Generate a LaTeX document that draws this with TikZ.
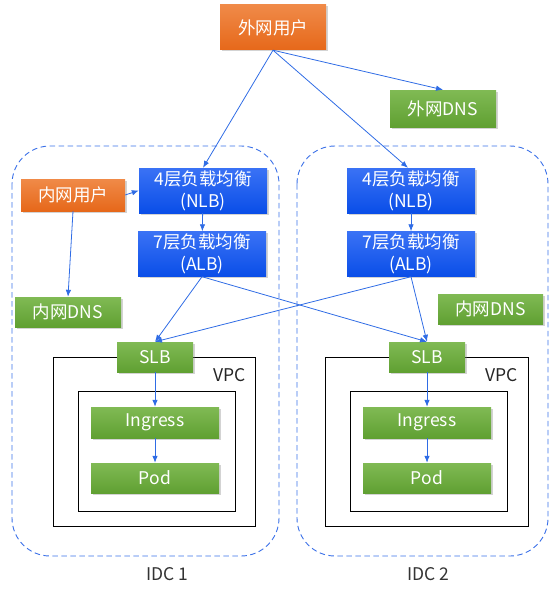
\documentclass[tikz,border=0pt]{standalone}
\usepackage{fontspec}
\setmainfont{Noto Sans CJK SC}
\usetikzlibrary{arrows.meta,shadows}
\definecolor{linkblue}{HTML}{2F6CE5}
\definecolor{idcblue}{HTML}{3A70E8}
\begin{document}
\begin{tikzpicture}[x=1pt,y=-1pt,
    font=\fontsize{17.5}{20}\selectfont,
    box/.style={text=white,inner sep=0pt,drop shadow={opacity=0.35,shadow xshift=1.5pt,shadow yshift=-1.5pt}},
    userbox/.style={box,top color={rgb,255:red,240;green,138;blue,72},bottom color={rgb,255:red,230;green,104;blue,26}},
    lbbox/.style={box,top color={rgb,255:red,58;green,114;blue,245},bottom color={rgb,255:red,10;green,78;blue,232},minimum width=128pt,minimum height=45pt,align=center,font=\fontsize{17.5}{22}\selectfont},
    grnbox/.style={box,top color={rgb,255:red,128;green,186;blue,84},bottom color={rgb,255:red,96;green,160;blue,50}},
    arr/.style={linkblue,line width=0.8pt,-{Latex[length=7pt,width=5.5pt]}},
    idc/.style={idcblue,line width=0.9pt,dash pattern=on 5.5pt off 3.5pt,rounded corners=38pt},
    vpc/.style={black,line width=0.85pt}]
\useasboundingbox (0,0) rectangle (557,594);

% IDC areas
\draw[idc] (12,146) rectangle (279,556);
\draw[idc] (297,146) rectangle (548,556);
\node[text=black!80] (idc1) at (167,574) {IDC 1};
\node[text=black!80] (idc2) at (428,574) {IDC 2};

% VPC frames
\draw[vpc] (53,357) rectangle (255,526);
\draw[vpc] (78,391) rectangle (235,511);
\draw[vpc] (325,357) rectangle (528,526);
\draw[vpc] (350,391) rectangle (507,511);
\node[anchor=east,text=black!85] (vpc1) at (249,375) {VPC};
\node[anchor=east,text=black!85] (vpc2) at (521,375) {VPC};

% users and DNS
\node[userbox,minimum width=106pt,minimum height=45pt] (extuser) at (273,27.5) {外网用户};
\node[grnbox,minimum width=106pt,minimum height=37pt] (extdns) at (443,108.5) {外网DNS};
\node[userbox,minimum width=104pt,minimum height=32pt] (intuser) at (73,195) {内网用户};
\node[grnbox,minimum width=106pt,minimum height=30pt] (dns1) at (68,312) {内网DNS};
\node[grnbox,minimum width=105pt,minimum height=30pt] (dns2) at (490.5,309) {内网DNS};

% load balancers
\node[lbbox] (nlb1) at (203,190.5) {4层负载均衡\\(NLB)};
\node[lbbox] (alb1) at (202,254) {7层负载均衡\\(ALB)};
\node[lbbox] (nlb2) at (411,190.5) {4层负载均衡\\(NLB)};
\node[lbbox] (alb2) at (411,254) {7层负载均衡\\(ALB)};

% cluster
\node[grnbox,minimum width=76pt,minimum height=30pt] (slb1) at (155,357) {SLB};
\node[grnbox,minimum width=76pt,minimum height=30pt] (slb2) at (427,357) {SLB};
\node[grnbox,minimum width=128pt,minimum height=31pt] (ing1) at (155,422.5) {Ingress};
\node[grnbox,minimum width=128pt,minimum height=30pt] (pod1) at (155,478) {Pod};
\node[grnbox,minimum width=128pt,minimum height=31pt] (ing2) at (427,422.5) {Ingress};
\node[grnbox,minimum width=128pt,minimum height=30pt] (pod2) at (427,478) {Pod};

% links
\draw[arr] (extuser.south) -- (nlb1.north);
\draw[arr] (extuser.south) -- (extdns.north);
\draw[arr] (extuser.south) -- ([xshift=-3pt]nlb2.north);
\draw[arr] (intuser.east) -- (nlb1.west);
\draw[arr] (intuser.south) -- (dns1.north);
\foreach \i in {1,2} {
  \draw[arr] (nlb\i) -- (alb\i);
  \draw[arr] (alb\i.south) -- (slb1.north);
  \draw[arr] (alb\i.south) -- (slb2.north);
  \draw[arr] (slb\i) -- (ing\i);
  \draw[arr] (ing\i) -- (pod\i);
}
\end{tikzpicture}
\end{document}
